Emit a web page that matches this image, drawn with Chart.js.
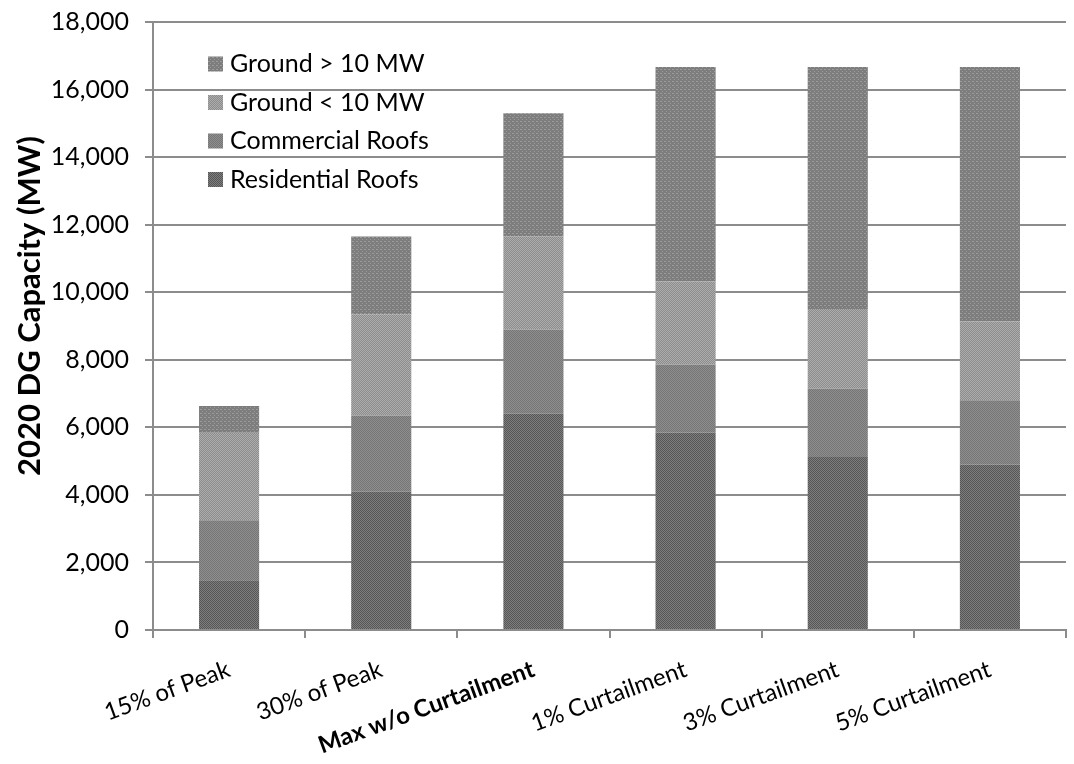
<!DOCTYPE html>
<html>
<head>
<meta charset="utf-8">
<script src="https://cdn.jsdelivr.net/npm/chart.js@4/dist/chart.umd.min.js"></script>
<style>
  html, body { margin: 0; padding: 0; background: #ffffff; }
  #chart { display: block; }
</style>
</head>
<body>
<canvas id="chart" width="1074" height="764"></canvas>
<script>
// Scenario categories along the x axis
const categories = ['15% of Peak', '30% of Peak', 'Max w/o Curtailment', '1% Curtailment', '3% Curtailment', '5% Curtailment'];

// 2020 DG capacity by segment (MW), stacked bottom to top
const residentialRoofs = [1470, 4100, 6400, 5850, 5120, 4900];
const commercialRoofs  = [1780, 2250, 2500, 2010, 2020, 1900];
const groundUnder10    = [2590, 3000, 2750, 2460, 2360, 2330];
const groundOver10     = [790, 2300, 3650, 6350, 7170, 7540];

// Y axis tick values and title
const yTicks = [0, 2000, 4000, 6000, 8000, 10000, 12000, 14000, 16000, 18000];
const yTitle = '2020 DG Capacity (MW)';

const FONT = 'Lato, "DejaVu Sans", sans-serif';

// Small speckled grey fills for each segment
function makePattern(a, b, kind) {
  const c = document.createElement('canvas');
  c.width = 4; c.height = 4;
  const g = c.getContext('2d');
  g.fillStyle = a; g.fillRect(0, 0, 4, 4);
  g.fillStyle = b;
  if (kind === 'checker') {
    for (let y = 0; y < 4; y++) for (let x = 0; x < 4; x++) if ((x + y) % 2 === 0) g.fillRect(x, y, 1, 1);
  } else {
    g.fillRect(0, 1, 2, 1); g.fillRect(2, 3, 1, 1);
  }
  return g.createPattern(c, 'repeat');
}

const fills = {
  residential: makePattern('#7e7e7e', '#565656', 'checker'),
  commercial:  makePattern('#8e8e8e', '#767676', 'checker'),
  groundSmall: makePattern('#8c8c8c', '#adadad', 'checker'),
  groundLarge: makePattern('#7d7d7d', '#9c9c9c', 'lines')
};

// Legend drawn inside the plot area, top-left, in reverse stacking order
const insideLegend = {
  id: 'insideLegend',
  afterDraw(chart) {
    const ctx = chart.ctx;
    const area = chart.chartArea;
    const sets = chart.data.datasets.slice().reverse();
    ctx.save();
    ctx.font = '25px ' + FONT;
    ctx.textBaseline = 'middle';
    ctx.textAlign = 'left';
    sets.forEach((ds, i) => {
      const cy = area.top + 42 + i * 38.5;
      const x = area.left + 55;
      ctx.fillStyle = ds.backgroundColor;
      ctx.fillRect(x, cy - 7.5, 15, 15);
      ctx.fillStyle = '#000000';
      ctx.fillText(ds.label, x + 22, cy);
    });
    ctx.restore();
  }
};

// Rotated y axis title, placed in the left margin
const yAxisTitle = {
  id: 'yAxisTitle',
  afterDraw(chart) {
    const ctx = chart.ctx;
    const area = chart.chartArea;
    ctx.save();
    ctx.translate(30, (area.top + area.bottom) / 2 - 20);
    ctx.rotate(-Math.PI / 2);
    ctx.font = 'bold 31px ' + FONT;
    ctx.fillStyle = '#000000';
    ctx.textAlign = 'center';
    ctx.textBaseline = 'middle';
    ctx.fillText(yTitle, 0, 0);
    ctx.restore();
  }
};

const gridGrey = '#8c8c8c';

new Chart(document.getElementById('chart'), {
  type: 'bar',
  data: {
    labels: categories,
    datasets: [
      { label: 'Residential Roofs', data: residentialRoofs, backgroundColor: fills.residential },
      { label: 'Commercial Roofs',  data: commercialRoofs,  backgroundColor: fills.commercial },
      { label: 'Ground < 10 MW',    data: groundUnder10,    backgroundColor: fills.groundSmall },
      { label: 'Ground > 10 MW',    data: groundOver10,     backgroundColor: fills.groundLarge }
    ]
  },
  options: {
    responsive: false,
    animation: false,
    devicePixelRatio: 1,
    layout: { padding: { top: 22, right: 8, bottom: 0, left: 8 } },
    datasets: { bar: { categoryPercentage: 1, barPercentage: 0.395, borderWidth: 0 } },
    plugins: {
      legend: { display: false },
      tooltip: { enabled: false }
    },
    scales: {
      x: {
        stacked: true,
        grid: { drawOnChartArea: false, color: gridGrey, lineWidth: 2, tickLength: 8, offset: true },
        border: { color: gridGrey, width: 2 },
        ticks: {
          color: '#000000',
          minRotation: 20,
          maxRotation: 20,
          padding: 17,
          labelOffset: 0,
          autoSkip: false,
          font: (c) => ({ family: FONT, size: 24, weight: c.index === 2 ? 'bold' : 'normal' })
        },
        afterFit(scale) {
          scale.height = 134;
          scale.paddingLeft = 0;
          scale.paddingRight = 0;
        }
      },
      y: {
        stacked: true,
        min: 0,
        max: 18000,
        afterBuildTicks(scale) { scale.ticks = yTicks.map(v => ({ value: v })); },
        grid: { color: gridGrey, lineWidth: 2, tickLength: 8 },
        border: { color: gridGrey, width: 2 },
        ticks: {
          color: '#000000',
          padding: 16,
          font: { family: FONT, size: 25 },
          callback: (v) => Number(v).toLocaleString('en-US')
        },
        afterFit(scale) {
          scale.width = 145;
          scale.paddingTop = 0;
          scale.paddingBottom = 0;
        }
      }
    }
  },
  plugins: [insideLegend, yAxisTitle]
});
</script>
</body>
</html>
